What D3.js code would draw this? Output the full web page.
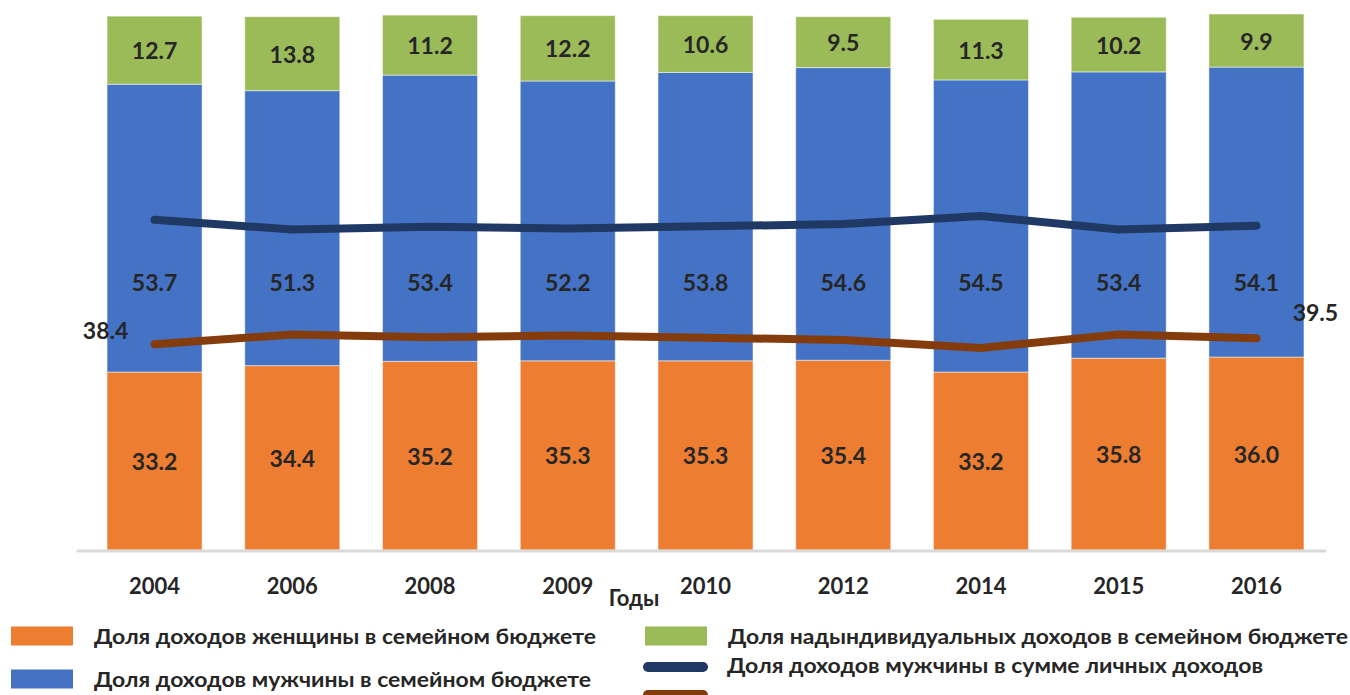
<!DOCTYPE html>
<html>
<head>
<meta charset="utf-8">
<script src="https://cdn.jsdelivr.net/npm/d3@7"></script>
<style>
  html, body { margin: 0; padding: 0; background: #fff; }
  svg { display: block; }
  text { font-family: Lato, "Noto Sans", "DejaVu Sans", sans-serif; font-weight: bold; fill: #262626; }
</style>
</head>
<body>
<svg id="chart" width="1350" height="695"></svg>
<script>
// ---- data ----
const years = ["2004", "2006", "2008", "2009", "2010", "2012", "2014", "2015", "2016"];
const womenFamily = [33.2, 34.4, 35.2, 35.3, 35.3, 35.4, 33.2, 35.8, 36.0];
const menFamily   = [53.7, 51.3, 53.4, 52.2, 53.8, 54.6, 54.5, 53.4, 54.1];
const jointFamily = [12.7, 13.8, 11.2, 12.2, 10.6, 9.5, 11.3, 10.2, 9.9];
const menPersonal   = [61.6, 59.8, 60.3, 60.0, 60.4, 60.8, 62.3, 59.8, 60.5];
const womenPersonal = [38.4, 40.2, 39.7, 40.0, 39.6, 39.2, 37.7, 40.2, 39.5];
const axisTitle = "Годы";
const legendLabels = [
  "Доля доходов женщины в семейном бюджете",
  "Доля доходов мужчины в семейном бюджете",
  "Доля надындивидуальных доходов в семейном бюджете",
  "Доля доходов  мужчины в сумме личных доходов",
  ""
];
const colors = { women: "#ED7D31", men: "#4472C4", joint: "#9BBB59", menLine: "#203864", womenLine: "#843C0C" };

// ---- build ----
const svg = d3.select("#chart");
const x = d3.scaleBand().domain(years).range([85, 1326]).paddingInner(0.31).paddingOuter(0.16);
const y = d3.scaleLinear().domain([0, 100]).range([550, 14]);

const rows = years.map((yr, i) => ({ year: yr, women: womenFamily[i], men: menFamily[i], joint: jointFamily[i] }));
const keys = ["women", "men", "joint"];
const stacked = d3.stack().keys(keys)(rows);

const layers = svg.append("g").selectAll("g").data(stacked).join("g")
  .attr("fill", d => colors[d.key]);
layers.selectAll("rect").data(d => d).join("rect")
  .attr("x", d => x(d.data.year))
  .attr("width", x.bandwidth())
  .attr("y", d => y(d[1]))
  .attr("height", d => y(d[0]) - y(d[1]))
  .attr("stroke", "#ffffff").attr("stroke-opacity", 0.5).attr("stroke-width", 1);

// axis line
svg.append("line").attr("x1", 78).attr("x2", 1325).attr("y1", 551).attr("y2", 551)
  .attr("stroke", "#D9D9D9").attr("stroke-width", 3).attr("stroke-linecap", "round");

// year labels
const xAxis = d3.axisBottom(x).tickSize(0).tickPadding(0);
const gx = svg.append("g").attr("transform", "translate(0,577)").call(xAxis);
gx.select(".domain").remove();
gx.selectAll("text").attr("dy", "0.75em").style("font-size", "22px").attr("fill", "#262626");

svg.append("text").attr("x", 634).attr("y", 606).attr("text-anchor", "middle")
  .style("font-size", "22px").text(axisTitle);

// bar value labels
const cx = d => x(d.data.year) + x.bandwidth() / 2;
svg.append("g").selectAll("text").data(stacked[0]).join("text")
  .attr("x", cx).attr("y", d => (y(d[0]) + y(d[1])) / 2)
  .attr("text-anchor", "middle").attr("dominant-baseline", "central")
  .style("font-size", "23px").text(d => d.data.women.toFixed(1));
svg.append("g").selectAll("text").data(stacked[1]).join("text")
  .attr("x", cx).attr("y", y(50))
  .attr("text-anchor", "middle").attr("dominant-baseline", "central")
  .style("font-size", "23px").text(d => d.data.men.toFixed(1));
svg.append("g").selectAll("text").data(stacked[2]).join("text")
  .attr("x", cx).attr("y", d => (y(d[0]) + y(d[1])) / 2)
  .attr("text-anchor", "middle").attr("dominant-baseline", "central")
  .style("font-size", "23px").text(d => d.data.joint.toFixed(1));

// lines
const line = d3.line().x((d, i) => x(years[i]) + x.bandwidth() / 2).y(d => y(d));
svg.append("path").datum(menPersonal).attr("d", line).attr("fill", "none")
  .attr("stroke", colors.menLine).attr("stroke-width", 8).attr("stroke-linecap", "round").attr("stroke-linejoin", "round");
svg.append("path").datum(womenPersonal).attr("d", line).attr("fill", "none")
  .attr("stroke", colors.womenLine).attr("stroke-width", 8).attr("stroke-linecap", "round").attr("stroke-linejoin", "round");

// end labels of women personal line
const n = years.length - 1;
svg.append("text").attr("x", x(years[0]) + x.bandwidth() / 2 - 49).attr("y", y(womenPersonal[0]) - 14)
  .attr("text-anchor", "middle").attr("dominant-baseline", "central")
  .style("font-size", "23px").text(womenPersonal[0].toFixed(1));
svg.append("text").attr("x", x(years[n]) + x.bandwidth() / 2 + 59).attr("y", y(womenPersonal[n]) - 26)
  .attr("text-anchor", "middle").attr("dominant-baseline", "central")
  .style("font-size", "23px").text(womenPersonal[n].toFixed(1));

// legend
const legendItems = [
  { type: "rect", color: colors.women, x: 11, y: 636, w: 502, label: legendLabels[0] },
  { type: "rect", color: colors.men, x: 11, y: 679, w: 497, label: legendLabels[1] },
  { type: "rect", color: colors.joint, x: 645, y: 636, w: 620, label: legendLabels[2] },
  { type: "line", color: colors.menLine, x: 644, y: 667, ty: 665, w: 536, label: legendLabels[3] },
  { type: "line", color: colors.womenLine, x: 644, y: 695, ty: 695, w: 0, label: legendLabels[4] }
];
const lg = svg.append("g");
legendItems.forEach(it => {
  if (it.type === "rect") {
    lg.append("rect").attr("x", it.x).attr("y", it.y - 9.5).attr("width", 62).attr("height", 19).attr("fill", it.color);
  } else {
    lg.append("line").attr("x1", it.x + 4).attr("x2", it.x + 59).attr("y1", it.y).attr("y2", it.y)
      .attr("stroke", it.color).attr("stroke-width", 10).attr("stroke-linecap", "round");
  }
  if (it.label) {
    const t = lg.append("text").attr("x", it.x + 83).attr("y", it.ty || it.y)
      .attr("dominant-baseline", "central").style("font-size", "20px").text(it.label);
    t.attr("textLength", it.w).attr("lengthAdjust", "spacingAndGlyphs");
  }
});
</script>
</body>
</html>
